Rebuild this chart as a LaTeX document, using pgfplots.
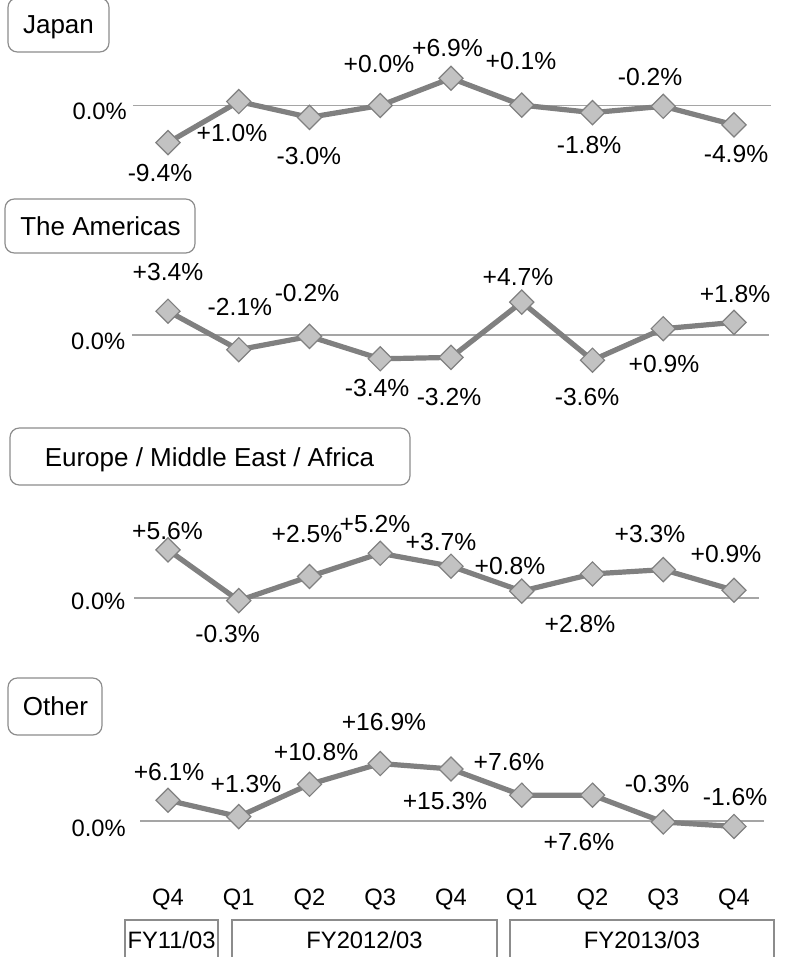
\documentclass[border=0pt]{standalone}
\usepackage{pgfplots}
\pgfplotsset{compat=1.18}
\usepackage{pgfplotstable}
\usepackage{fontspec}
\setmainfont{Liberation Sans}
\definecolor{linegray}{RGB}{128,128,128}
\definecolor{markfill}{RGB}{194,194,194}
\definecolor{markedge}{RGB}{128,128,128}
\definecolor{zerogray}{RGB}{165,165,165}
\definecolor{boxgray}{RGB}{140,140,140}
\newcommand\lf{\fontsize{18.5pt}{21pt}\selectfont}
\newcommand\tf{\fontsize{19.5pt}{22pt}\selectfont}
\newcommand\af{\fontsize{17.8pt}{20pt}\selectfont}

\pgfplotstableread{
x y lab dx dy
0 -9.4 -9.4 -6.0 -22.8
1 1.0 +1.0 -5.1 -23.6
2 -3.0 -3.0 -0.4 -29.0
3 0.0 +0.0 -0.9 31.1
4 6.9 +6.9 -2.6 22.7
5 0.1 +0.1 -0.6 33.1
6 -1.8 -1.8 -2.6 -24.3
7 -0.2 -0.2 -9.9 22.0
8 -4.9 -4.9 1.5 -21.8
}\japan

\pgfplotstableread{
x y lab dx dy
0 3.4 +3.4 0.0 29.6
1 -2.1 -2.1 0.9 32.0
2 -0.2 -0.2 -1.9 32.9
3 -3.4 -3.4 -2.4 -21.9
4 -3.2 -3.2 -1.5 -29.7
5 4.7 +4.7 -2.8 18.5
6 -3.6 -3.6 -4.1 -27.6
7 0.9 +0.9 0.6 -26.5
8 1.8 +1.8 0.8 21.3
}\americas

\pgfplotstableread{
x y lab dx dy
0 5.6 +5.6 -0.4 14.1
1 -0.3 -0.3 -8.4 -25.1
2 2.5 +2.5 -1.9 31.9
3 5.2 +5.2 -3.9 22.0
4 3.7 +3.7 -7.5 17.8
5 0.8 +0.8 -8.8 18.8
6 2.8 +2.8 -9.4 -37.6
7 3.3 +3.3 -9.9 26.7
8 0.9 +0.9 -6.0 27.2
}\emea

\pgfplotstableread{
x y lab dx dy
0 6.1 +6.1 0.8 20.9
1 1.3 +1.3 5.4 24.5
2 10.8 +10.8 4.9 23.9
3 16.9 +16.9 2.8 31.1
4 15.3 +15.3 -4.5 -24.0
5 7.6 +7.6 -9.6 24.5
6 7.6 +7.6 -10.1 -35.5
7 -0.3 -0.3 -4.7 28.5
8 -1.6 -1.6 0.8 22.1
}\other

\pgfplotsset{
  panel/.style={
    x=53.0625pt,
    clip=false,
    anchor=origin,
    axis line style={draw=none},
    major tick length=0pt,
    xtick=\empty,
    ytick={0},
    yticklabels={0.0\%},
    ymajorgrids=true,
    grid style={draw=zerogray, line width=0.8pt},
    yticklabel style={font=\af, text=black},
  },
  ser/.style={draw=linegray, line width=3.9pt, mark=square*, mark size=6.4pt,
    mark options={solid, rotate=45, fill=markfill, draw=markedge, line width=0.9pt},
    point meta=explicit symbolic,
    visualization depends on={\thisrow{dx}\as\dx},
    visualization depends on={\thisrow{dy}\as\dy},
    nodes near coords={\pgfplotspointmeta\%},
    every node near coord/.append style={font=\lf, text=black, anchor=center, inner sep=0pt, xshift=\dx pt, yshift=\dy pt},
  },
}

\begin{document}
\begin{tikzpicture}
\useasboundingbox (0pt,0pt) rectangle (594.75pt,-717.75pt);

\begin{axis}[panel, at={(126pt,-79.125pt)}, y=2.9625pt,
  xmin=-0.495, xmax=8.52, ymin=-11, ymax=9,
  yticklabel style={xshift=-1.1pt, yshift=-4.3pt}]
\addplot[ser] table[x=x, y=y, meta=lab] {\japan};
\end{axis}

\begin{axis}[panel, at={(126pt,-251.25pt)}, y=5.25pt,
  xmin=-0.51, xmax=8.50, ymin=-5, ymax=6,
  yticklabel style={xshift=-1.5pt, yshift=-5pt}]
\addplot[ser] table[x=x, y=y, meta=lab] {\americas};
\end{axis}

\begin{axis}[panel, at={(126pt,-448.5pt)}, y=6.45pt,
  xmin=-0.48, xmax=8.35, ymin=-2, ymax=7,
  yticklabel style={xshift=-3pt, yshift=-2.3pt}]
\addplot[ser] table[x=x, y=y, meta=lab] {\emea};
\end{axis}

\begin{axis}[panel, at={(126pt,-615.75pt)}, y=2.55pt,
  xmin=-0.39, xmax=8.42, ymin=-18.6, ymax=19,
  xtick={0,1,2,3,4,5,6,7,8},
  xticklabels={Q4,Q1,Q2,Q3,Q4,Q1,Q2,Q3,Q4},
  xticklabel style={font=\af, text=black},
  yticklabel style={xshift=-7.5pt, yshift=-5.3pt}]
\addplot[ser] table[x=x, y=y, meta=lab] {\other};
\end{axis}

\begin{scope}[x=0.75pt, y=-0.75pt]
  % region title boxes
  \draw[boxgray, line width=0.9pt, rounded corners=7pt] (8,-2) rectangle (109,52);
  \node[font=\tf, anchor=base, inner sep=0pt] at (58.5,33) {Japan};
  \draw[boxgray, line width=0.9pt, rounded corners=7pt] (5,199) rectangle (195,253);
  \node[font=\tf, anchor=base, inner sep=0pt] at (100.5,235) {The Americas};
  \draw[boxgray, line width=0.9pt, rounded corners=7pt] (10,428) rectangle (410,485);
  \node[font=\tf, anchor=base, inner sep=0pt] at (209.5,466.5) {Europe / Middle East / Africa};
  \draw[boxgray, line width=0.9pt, rounded corners=7pt] (8,678) rectangle (102,735);
  \node[font=\tf, anchor=base, inner sep=0pt] at (55.5,715) {Other};
  % fiscal year boxes
  \draw[boxgray, line width=1.3pt] (125,985) -- (125,920) -- (218,920) -- (218,985);
  \draw[boxgray, line width=1.3pt] (232,985) -- (232,920) -- (497,920) -- (497,985);
  \draw[boxgray, line width=1.3pt] (510,985) -- (510,920) -- (774,920) -- (774,985);
  \node[font=\af, anchor=base, inner sep=0pt] at (171.5,948) {FY11/03};
  \node[font=\af, anchor=base, inner sep=0pt] at (364.5,948) {FY2012/03};
  \node[font=\af, anchor=base, inner sep=0pt] at (642,948) {FY2013/03};
\end{scope}
\end{tikzpicture}
\end{document}
